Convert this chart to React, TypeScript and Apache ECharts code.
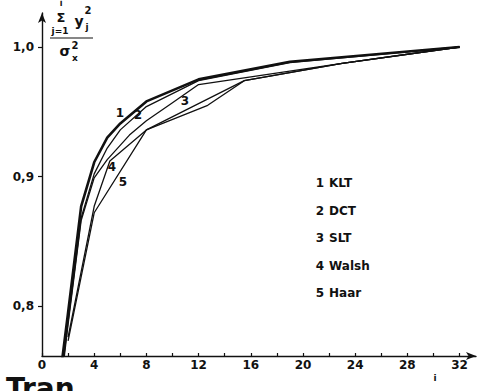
import React, { useEffect, useRef } from 'react';
import * as echarts from 'echarts';

// ---- data ----
const xTickValues = [0, 2, 4, 6, 8, 10, 12, 14, 16, 18, 20, 22, 24, 26, 28, 30, 32];
const xLabelValues = [0, 4, 8, 12, 16, 20, 24, 28, 32];
const yLabelValues = [0.8, 0.9, 1.0];

const seriesNames = ['KLT', 'DCT', 'SLT', 'Walsh', 'Haar'];

const klt = [[1, 0.715], [2, 0.795], [3, 0.877], [4, 0.911], [5, 0.930], [6, 0.941], [8, 0.958], [12, 0.975], [19, 0.9886], [32, 1.0]];
const dct = [[1, 0.705], [2, 0.788], [3, 0.868], [4, 0.902], [5, 0.922], [6, 0.936], [8, 0.954], [12, 0.974], [19, 0.988], [32, 1.0]];
const slt = [[1, 0.70], [2, 0.786], [3, 0.866], [4, 0.899], [5, 0.913], [6.7, 0.932], [8, 0.943], [10, 0.957], [12, 0.971], [23, 0.9874], [32, 1.0]];
const walsh = [[2, 0.776], [4, 0.877], [5.2, 0.912], [8, 0.936], [12.7, 0.955], [15.5, 0.974], [23, 0.9874], [32, 1.0]];
const haar = [[2, 0.773], [4, 0.872], [8, 0.936], [15.5, 0.974], [23, 0.9874], [32, 1.0]];

const curveLabels = [
  { text: '1', x: 5.98, y: 0.949 },
  { text: '2', x: 7.36, y: 0.9475 },
  { text: '3', x: 10.96, y: 0.958 },
  { text: '4', x: 5.36, y: 0.907 },
  { text: '5', x: 6.2, y: 0.896 },
];

const INK = '#111';
const FONT = 'DejaVu Sans';

export default function App() {
  const ref = useRef<HTMLDivElement>(null);

  useEffect(() => {
    const chart = echarts.init(ref.current!, null, { renderer: 'svg' });
    const allData = [klt, dct, slt, walsh, haar];

    const txt = (text: string, x: number, y: number, size: number, extra: any = {}) => ({
      type: 'text',
      x,
      y,
      silent: true,
      style: {
        text,
        fontSize: size,
        fontFamily: FONT,
        fontWeight: 'bold',
        fill: INK,
        align: 'center',
        verticalAlign: 'middle',
        ...extra,
      },
    });

    const staticGraphics: any[] = [
      // y-axis title: sum_{j=1}^{i} y_j^2 / sigma_x^2
      txt('i', 61, 3, 8),
      txt('Σ', 61, 17, 13),
      txt('j=1', 60, 31, 9),
      txt('y', 79, 21, 14),
      txt('2', 88, 10, 10),
      txt('j', 87, 27, 9),
      {
        type: 'line',
        silent: true,
        shape: { x1: 50, y1: 38, x2: 93, y2: 38 },
        style: { stroke: INK, lineWidth: 1.2 },
      },
      txt('σ', 65, 51, 14),
      txt('2', 75, 45, 10),
      txt('x', 75, 58, 9),
      // x-axis title fragment
      txt('i', 435, 378, 9),
      // cropped caption
      txt('Tran', 6, 374, 28, { align: 'left', verticalAlign: 'top' }),
    ];

    seriesNames.forEach((name, i) => {
      staticGraphics.push(txt(String(i + 1), 320, 183 + i * 27.5, 12));
      staticGraphics.push(txt(name, 329, 183 + i * 27.5, 12, { align: 'left' }));
    });

    chart.setOption({
      animation: false,
      backgroundColor: '#fff',
      grid: { left: 42, right: 5, top: 13, bottom: 35, containLabel: false },
      xAxis: {
        type: 'value',
        min: 0,
        max: 33.26,
        axisLine: { show: true, lineStyle: { color: INK, width: 1.4 }, symbol: ['none', 'arrow'], symbolSize: [6, 10] },
        axisTick: { show: true, inside: true, length: 3, lineStyle: { color: INK, width: 1.2 }, customValues: xTickValues },
        axisLabel: {
          show: true,
          customValues: xLabelValues,
          margin: 3,
          color: INK,
          fontSize: 12,
          fontFamily: FONT,
          fontWeight: 'bold',
          formatter: (v: number) => String(v),
        },
        splitLine: { show: false },
      },
      yAxis: {
        type: 'value',
        min: 0.7614,
        max: 1.02625,
        axisLine: { show: true, lineStyle: { color: INK, width: 1.4 }, symbol: ['none', 'arrow'], symbolSize: [6, 10] },
        axisTick: { show: true, inside: false, length: 4, lineStyle: { color: INK, width: 1.2 }, customValues: yLabelValues },
        axisLabel: {
          show: true,
          customValues: yLabelValues,
          margin: 8,
          color: INK,
          fontSize: 12,
          fontFamily: FONT,
          fontWeight: 'bold',
          formatter: (v: number) => v.toFixed(1).replace('.', ','),
        },
        splitLine: { show: false },
      },
      series: allData.map((d, i) => ({
        name: seriesNames[i],
        type: 'line',
        data: d,
        symbol: 'none',
        clip: true,
        silent: true,
        lineStyle: { color: INK, width: i === 0 ? 2.6 : 1.3 },
      })),
      graphic: staticGraphics,
    });

    const labelGraphics = curveLabels.map((l) => {
      const p = chart.convertToPixel({ gridIndex: 0 }, [l.x, l.y]) as number[];
      return txt(l.text, p[0], p[1], 12);
    });
    chart.setOption({ graphic: [...staticGraphics, ...labelGraphics] });

    return () => chart.dispose();
  }, []);

  return <div ref={ref} style={{ position: 'fixed', left: 0, top: 0, width: 481, height: 391 }} />;
}
